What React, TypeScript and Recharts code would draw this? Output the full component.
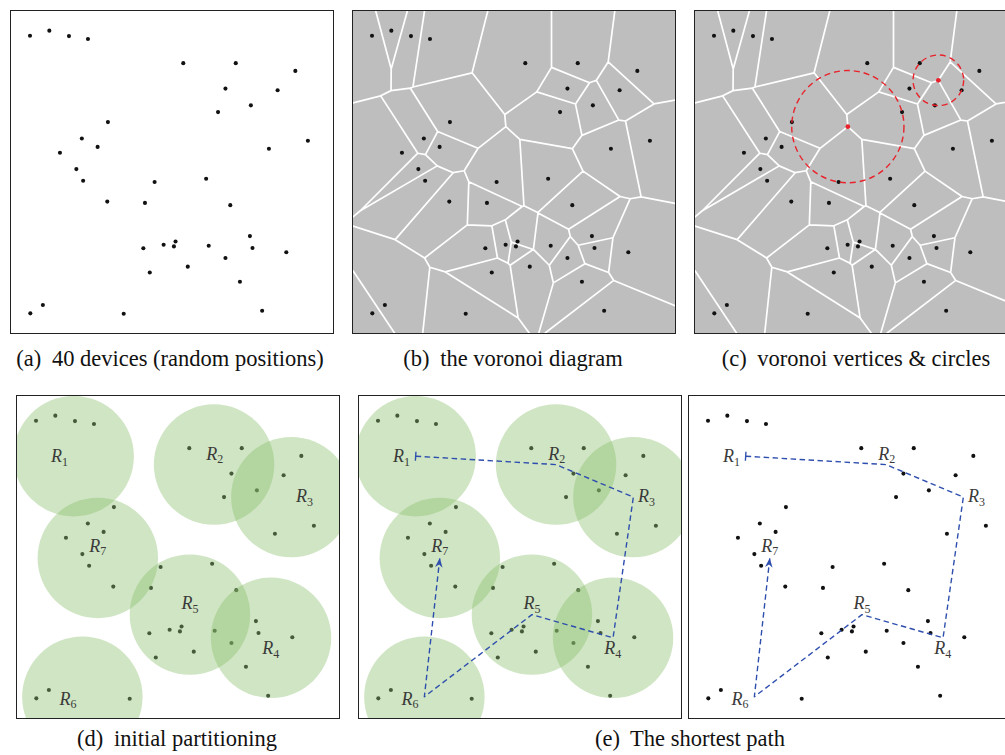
import React from 'react';
import { ComposedChart, XAxis, YAxis, Scatter, Line } from 'recharts';

// ---- data (0..100 field coordinates, y up) ----
const deviceX = [5.9, 11.9, 18.0, 23.9, 53.5, 69.8, 88.3, 66.6, 82.8, 74.5, 64.3, 30.1, 22.0, 26.9, 15.2, 92.2, 80.1, 20.3, 22.4, 44.6, 60.6, 29.9, 41.6, 68.1, 74.2, 41.1, 47.4, 50.6, 51.1, 61.4, 75.0, 85.5, 66.6, 54.9, 43.1, 71.1, 9.9, 6.0, 35.0, 78.0];
const deviceY = [92.3, 93.9, 92.2, 91.3, 83.8, 83.8, 81.4, 75.9, 75.4, 70.7, 68.6, 65.5, 60.4, 57.8, 56.0, 59.7, 57.2, 50.9, 47.3, 46.9, 47.9, 40.8, 40.4, 39.7, 30.1, 26.3, 27.4, 26.9, 28.4, 27.1, 26.4, 25.1, 23.3, 20.6, 18.8, 15.9, 8.7, 6.1, 6.0, 6.9];

// circles through three devices (voronoi vertices)
const vertexTriples = [[11, 10, 19], [5, 8, 9]];

// regions R1..R7
const regionNames = ['1', '2', '3', '4', '5', '6', '7'];
const regionX = [17.6, 61.2, 85.2, 78.9, 53.7, 20.3, 25.1];
const regionY = [81.3, 78.7, 68.6, 24.9, 32.1, 6.6, 49.7];
const regionRadius = 18.7;
const labelX = [13.2, 61.4, 89.3, 78.8, 53.7, 15.8, 25.1];
const labelY = [81.1, 81.9, 68.7, 21.5, 35.5, 5.9, 53.4];
const pathOrder = [0, 1, 2, 3, 4, 5, 6];

const captions = ['(a)', '(b)', '(c)', '(d)', '(e)'];
const captionTexts = ['40 devices (random positions)', 'the voronoi diagram', 'voronoi vertices & circles', 'initial partitioning', 'The shortest path'];

// ---- derived ----
const S = 322;
const U = S / 100;
const SERIF = '"Liberation Serif", "DejaVu Serif", serif';
const BLUE = '#2f4fae';
const GREEN = 'rgb(140,193,111)';

type P = [number, number];
const deviceData = deviceX.map((x, i) => ({ x, y: deviceY[i] }));

function clip(poly: P[], a: number, b: number, c: number): P[] {
  const out: P[] = [];
  for (let k = 0; k < poly.length; k++) {
    const p = poly[k];
    const q = poly[(k + 1) % poly.length];
    const fp = a * p[0] + b * p[1] - c;
    const fq = a * q[0] + b * q[1] - c;
    if (fp <= 0) out.push(p);
    if ((fp < 0 && fq > 0) || (fp > 0 && fq < 0)) {
      const t = fp / (fp - fq);
      out.push([p[0] + t * (q[0] - p[0]), p[1] + t * (q[1] - p[1])]);
    }
  }
  return out;
}

function voronoiEdges(): [P, P][] {
  const seen = new Set<string>();
  const edges: [P, P][] = [];
  const eps = 1e-6;
  for (let i = 0; i < deviceX.length; i++) {
    let poly: P[] = [[0, 0], [100, 0], [100, 100], [0, 100]];
    for (let j = 0; j < deviceX.length; j++) {
      if (j === i) continue;
      const a = deviceX[j] - deviceX[i];
      const b = deviceY[j] - deviceY[i];
      const c = (deviceX[j] ** 2 + deviceY[j] ** 2 - deviceX[i] ** 2 - deviceY[i] ** 2) / 2;
      poly = clip(poly, a, b, c);
    }
    for (let k = 0; k < poly.length; k++) {
      const p = poly[k];
      const q = poly[(k + 1) % poly.length];
      const onB = (v1: number, v2: number, t: number) => Math.abs(v1 - t) < eps && Math.abs(v2 - t) < eps;
      if (onB(p[0], q[0], 0) || onB(p[0], q[0], 100) || onB(p[1], q[1], 0) || onB(p[1], q[1], 100)) continue;
      if (Math.hypot(p[0] - q[0], p[1] - q[1]) < 1e-4) continue;
      const k1 = p[0].toFixed(3) + ',' + p[1].toFixed(3);
      const k2 = q[0].toFixed(3) + ',' + q[1].toFixed(3);
      const key = k1 < k2 ? k1 + '|' + k2 : k2 + '|' + k1;
      if (seen.has(key)) continue;
      seen.add(key);
      edges.push([p, q]);
    }
  }
  return edges;
}

const voronoiData: { x: number; y: number | null }[] = [];
voronoiEdges().forEach(([p, q]) => {
  voronoiData.push({ x: p[0], y: p[1] }, { x: q[0], y: q[1] }, { x: q[0], y: null });
});

function circum(ia: number, ib: number, ic: number) {
  const ax = deviceX[ia], ay = deviceY[ia], bx = deviceX[ib], by = deviceY[ib], cx = deviceX[ic], cy = deviceY[ic];
  const d = 2 * (ax * (by - cy) + bx * (cy - ay) + cx * (ay - by));
  const a2 = ax * ax + ay * ay, b2 = bx * bx + by * by, c2 = cx * cx + cy * cy;
  const ux = (a2 * (by - cy) + b2 * (cy - ay) + c2 * (ay - by)) / d;
  const uy = (a2 * (cx - bx) + b2 * (ax - cx) + c2 * (bx - ax)) / d;
  return { x: ux, y: uy, r: Math.hypot(ax - ux, ay - uy) };
}
const vertexData = vertexTriples.map((t) => circum(t[0], t[1], t[2]));

const regionData = regionX.map((x, i) => ({ x, y: regionY[i] }));
const labelData = labelX.map((x, i) => ({ x, y: labelY[i], name: regionNames[i] }));
const pathData = pathOrder.map((r, i) => ({ x: regionX[r], y: regionY[r], i }));

function dirPx(from: number, to: number) {
  const dx = (regionX[pathOrder[to]] - regionX[pathOrder[from]]) * U;
  const dy = -(regionY[pathOrder[to]] - regionY[pathOrder[from]]) * U;
  const l = Math.hypot(dx, dy);
  return [dx / l, dy / l];
}

// ---- series builders ----
const devices = (fill: string) => (
  <Scatter key="dev" data={deviceData} isAnimationActive={false}
    shape={(p: any) => <circle cx={p.cx} cy={p.cy} r={2.05} fill={fill} />} />
);

const voronoi = () => (
  <Line key="vor" data={voronoiData} dataKey="y" type="linear" stroke="#ffffff" strokeWidth={1.7}
    strokeLinecap="round" dot={false} activeDot={false} connectNulls={false} isAnimationActive={false} />
);

const vertexCircles = () => (
  <Scatter key="vtx" data={vertexData} isAnimationActive={false}
    shape={(p: any) => (
      <g>
        <circle cx={p.cx} cy={p.cy} r={p.payload.r * U} fill="none" stroke="#e8232b" strokeWidth={1.4} strokeDasharray="6 4" />
        <circle cx={p.cx} cy={p.cy} r={2.4} fill="#e8232b" />
      </g>
    )} />
);

const regions = () => (
  <Scatter key="reg" data={regionData} isAnimationActive={false}
    shape={(p: any) => <circle cx={p.cx} cy={p.cy} r={regionRadius * U} fill={GREEN} fillOpacity={0.42} />} />
);

const path = () => (
  <Scatter key="path" data={pathData} isAnimationActive={false} lineType="joint"
    line={{ stroke: BLUE, strokeWidth: 1.4, strokeDasharray: '5.5 3.5', strokeLinejoin: 'round' } as any}
    shape={(p: any) => {
      const i = p.payload.i;
      if (i === 0) {
        const [ux, uy] = dirPx(0, 1);
        return <line x1={p.cx - uy * 4.5} y1={p.cy + ux * 4.5} x2={p.cx + uy * 4.5} y2={p.cy - ux * 4.5} stroke={BLUE} strokeWidth={1.4} />;
      }
      if (i === pathOrder.length - 1) {
        const [ux, uy] = dirPx(i - 1, i);
        const nx = -uy, ny = ux;
        const bx = p.cx - ux * 9.5, by = p.cy - uy * 9.5;
        const ix = p.cx - ux * 6.5, iy = p.cy - uy * 6.5;
        const d = `M${p.cx},${p.cy} L${bx + nx * 3.8},${by + ny * 3.8} L${ix},${iy} L${bx - nx * 3.8},${by - ny * 3.8} Z`;
        return <path d={d} fill={BLUE} />;
      }
      return <g />;
    }} />
);

const labels = () => (
  <Scatter key="lab" data={labelData} isAnimationActive={false}
    shape={(p: any) => (
      <text x={p.cx} y={p.cy + 5.5} textAnchor="middle" fill="#3a3a3a" fontFamily={SERIF}>
        <tspan fontStyle="italic" fontSize={18}>R</tspan>
        <tspan fontSize={12} dy={3.5}>{p.payload.name}</tspan>
      </text>
    )} />
);

function Panel({ left, top, bg, items }: { left: number; top: number; bg: string; items: React.ReactElement[] }) {
  return (
    <div style={{ position: 'absolute', left: left - 1, top: top - 1, width: S, height: S, border: '1px solid #222', background: bg, overflow: 'hidden' }}>
      <ComposedChart width={S} height={S} margin={{ top: 0, right: 0, bottom: 0, left: 0 }}>
        <XAxis type="number" dataKey="x" domain={[0, 100]} hide allowDataOverflow />
        <YAxis type="number" dataKey="y" domain={[0, 100]} hide allowDataOverflow />
        {items}
      </ComposedChart>
    </div>
  );
}

function Caption({ cx, top, idx }: { cx: number; top: number; idx: number }) {
  return (
    <div style={{ position: 'absolute', left: cx - 250, top, width: 500, textAlign: 'center', fontFamily: SERIF, fontSize: 22.5, lineHeight: '22.5px', color: '#111', whiteSpace: 'nowrap' }}>
      <span style={{ marginRight: 5 }}>{captions[idx]}</span> {captionTexts[idx]}
    </div>
  );
}

export default function App() {
  return (
    <div style={{ position: 'fixed', left: 0, top: 0, width: 1005, height: 755, overflow: 'hidden', background: '#fff' }}>
      <Panel left={11} top={11} bg="#fff" items={[devices('#111')]} />
      <Panel left={353} top={11} bg="#bebebe" items={[voronoi(), devices('#111')]} />
      <Panel left={695} top={11} bg="#bebebe" items={[voronoi(), devices('#111'), vertexCircles()]} />
      <Panel left={17} top={396} bg="#fff" items={[devices('#111'), regions(), labels()]} />
      <Panel left={359} top={396} bg="#fff" items={[devices('#111'), regions(), path(), labels()]} />
      <Panel left={689} top={396} bg="#fff" items={[devices('#111'), path(), labels()]} />
      <Caption cx={170} top={348} idx={0} />
      <Caption cx={513} top={348} idx={1} />
      <Caption cx={856} top={348} idx={2} />
      <Caption cx={177} top={728} idx={3} />
      <Caption cx={690} top={728} idx={4} />
    </div>
  );
}
